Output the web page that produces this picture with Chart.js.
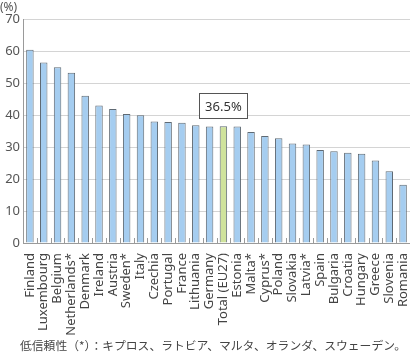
<!DOCTYPE html>
<html>
<head>
<meta charset="utf-8">
<script src="https://cdn.jsdelivr.net/npm/chart.js@4"></script>
<style>
  html, body { margin: 0; padding: 0; background: #fff; }
  #wrap { position: relative; width: 410px; height: 353px; }
  #unit { position: absolute; left: 0; top: -2px; font: 12px "Noto Sans", sans-serif; color: #555; }
  #note { position: absolute; left: 20px; top: 336px; font: 11.8px "Noto Sans CJK JP", sans-serif; color: #444; white-space: nowrap; }
</style>
</head>
<body>
<div id="wrap">
  <canvas id="chart" width="410" height="353"></canvas>
  <div id="unit">(%)</div>
  <div id="note">低信頼性（*）：キプロス、ラトビア、マルタ、オランダ、スウェーデン。</div>
</div>
<script>
// Data
const countries = ['Finland', 'Luxembourg', 'Belgium', 'Netherlands*', 'Denmark', 'Ireland', 'Austria',
    'Sweden*', 'Italy', 'Czechia', 'Portugal', 'France', 'Lithuania', 'Germany', 'Total (EU27)',
    'Estonia', 'Malta*', 'Cyprus*', 'Poland', 'Slovakia', 'Latvia*', 'Spain', 'Bulgaria', 'Croatia',
    'Hungary', 'Greece', 'Slovenia', 'Romania'];
const shares = [60.4, 56.4, 54.9, 53.2, 46.0, 43.0, 41.9, 40.3, 39.9, 38.0, 37.8, 37.6, 36.8, 36.4, 36.5,
    36.4, 34.7, 33.4, 32.7, 31.1, 30.8, 29.1, 28.7, 28.2, 27.9, 25.8, 22.4, 18.2];
const totalLabel = 'Total (EU27)';
const totalText = '36.5%';

const blue = '#a5cdf0';
const green = '#cfe39c';

// short category ticks standing up from the baseline, plus the total callout
const extras = {
    id: 'extras',
    afterDatasetsDraw(chart) {
        const { ctx, scales: { x, y } } = chart;
        const base = y.getPixelForValue(0);
        const step = x.getPixelForValue(1) - x.getPixelForValue(0);
        ctx.save();
        ctx.strokeStyle = '#9a9a9a';
        ctx.lineWidth = 1;
        for (let i = 0; i <= countries.length; i++) {
            const px = Math.round(x.getPixelForValue(i) - step / 2) + 0.5;
            ctx.beginPath();
            ctx.moveTo(px, base);
            ctx.lineTo(px, base - 5);
            ctx.stroke();
        }
        // callout box above the total bar
        const idx = countries.indexOf(totalLabel);
        const cx = x.getPixelForValue(idx);
        const top = y.getPixelForValue(shares[idx]);
        const w = 48, h = 25;
        const bx = Math.round(cx - w / 2) + 0.5, by = Math.round(top - 8 - h) + 0.5;
        ctx.fillStyle = '#fff';
        ctx.fillRect(bx, by, w, h);
        ctx.strokeStyle = '#555';
        ctx.strokeRect(bx, by, w, h);
        ctx.fillStyle = '#333';
        ctx.font = '13px "Noto Sans", sans-serif';
        ctx.textAlign = 'center';
        ctx.textBaseline = 'middle';
        ctx.fillText(totalText, cx, by + h / 2 + 1);
        ctx.restore();
    }
};

new Chart(document.getElementById('chart'), {
    type: 'bar',
    data: {
        labels: countries,
        datasets: [{
            data: shares,
            backgroundColor: countries.map(c => c === totalLabel ? green : blue),
            borderColor: '#5f6a74',
            borderWidth: { top: 1, left: 1, right: 1, bottom: 0 },
            borderSkipped: 'bottom',
            barPercentage: 0.54,
            categoryPercentage: 1.0
        }]
    },
    options: {
        responsive: false,
        animation: false,
        layout: { padding: { top: 19, right: 0, left: 0, bottom: 0 } },
        plugins: { legend: { display: false }, tooltip: { enabled: false } },
        scales: {
            x: {
                grid: { display: false },
                border: { color: '#9a9a9a' },
                ticks: {
                    color: '#444',
                    font: { family: '"Noto Sans", sans-serif', size: 13 },
                    minRotation: 90,
                    maxRotation: 90,
                    autoSkip: false,
                    padding: 2
                },
                afterFit(scale) {
                    scale.height = 110;
                    scale.paddingLeft = 0;
                    scale.paddingRight = 0;
                }
            },
            y: {
                min: 0,
                max: 70,
                ticks: {
                    stepSize: 10,
                    color: '#555',
                    font: { family: '"Noto Sans", sans-serif', size: 13 },
                    padding: 3
                },
                grid: { color: '#d4d4d4', drawTicks: false },
                border: { color: '#9a9a9a' },
                afterFit(scale) { scale.width = 23; }
            }
        }
    },
    plugins: [extras]
});
</script>
</body>
</html>
